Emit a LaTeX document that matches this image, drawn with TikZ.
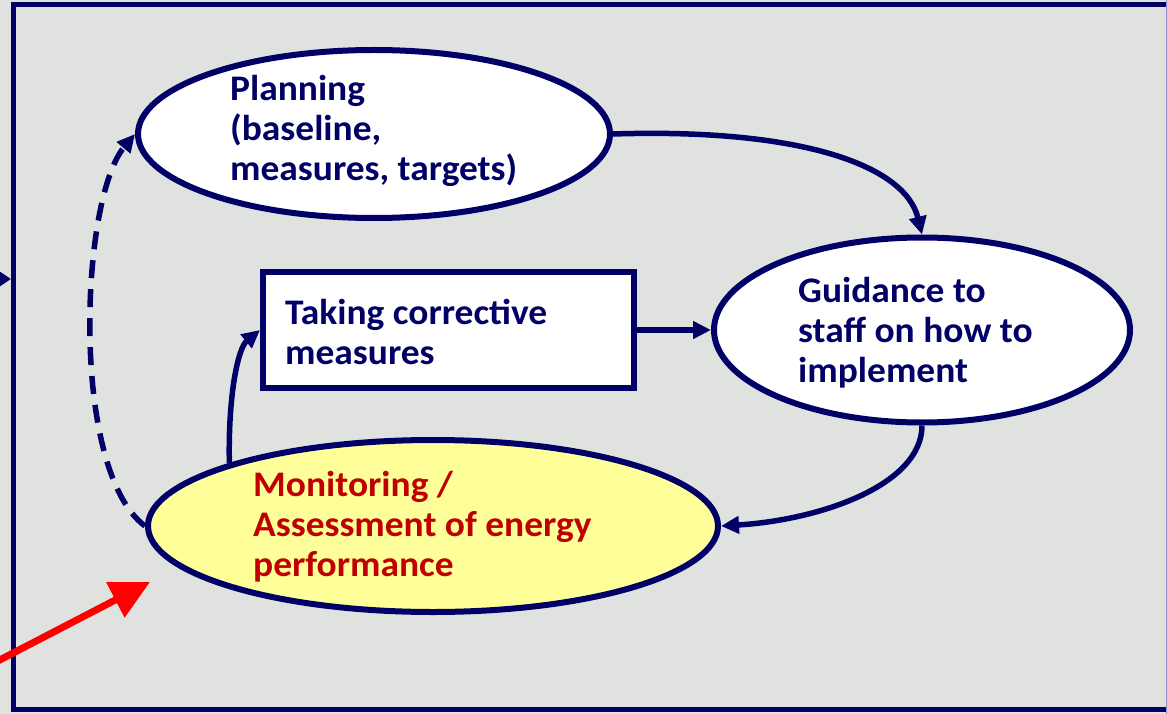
\documentclass[tikz,border=0pt]{standalone}
\usepackage{fontspec}
\setmainfont{Carlito}[FakeStretch=1.04]
\usetikzlibrary{arrows.meta,shapes.geometric}
\definecolor{navy}{RGB}{0,0,102}
\definecolor{bggray}{RGB}{224,226,224}
\definecolor{txtred}{RGB}{192,0,0}
\definecolor{paleyellow}{RGB}{255,255,153}
\definecolor{edgepurple}{RGB}{150,140,200}
\begin{document}
\begin{tikzpicture}[x=1pt,y=-1pt,
  ell/.style={ellipse, draw=navy, line width=6pt, fill=white, inner sep=0pt},
  rbox/.style={rectangle, draw=navy, line width=6pt, fill=white, inner sep=0pt},
  txt/.style={font=\bfseries\fontsize{36}{40}\selectfont, text=navy, align=left, inner sep=0pt},
  conn/.style={draw=navy, line width=5.5pt, -{Triangle[length=18pt,width=17pt]}},
  dconn/.style={conn, dash pattern=on 18pt off 11pt},
  redarrow/.style={draw=red, line width=7pt, -{Triangle[length=39pt,width=38pt]}}]
\useasboundingbox (0,0) rectangle (1167,714);
\clip (0,0) rectangle (1167,714);
\fill[bggray] (0,0) rectangle (1167,714);
\draw[navy, line width=5pt] (13,5) rectangle (1180,709);
\draw[edgepurple, line width=1.2pt] (1166.4,0) -- (1166.4,714);

% nodes
\node[ell, minimum width=472pt, minimum height=168pt] (plan) at (374,134) {};
\node[txt, anchor=west] (planT) at (230,130.5) {Planning\\(baseline,\\measures, targets)};

\node[ell, minimum width=416pt, minimum height=185pt] (guid) at (922,330) {};
\node[txt, anchor=west] (guidT) at (798,332.5) {Guidance to\\staff on how to\\implement};

\node[rbox, minimum width=371pt, minimum height=116pt] (box) at (448.5,330) {};
\node[txt, anchor=west] (boxT) at (285,331.5) {Taking corrective\\measures};

\node[ell, fill=paleyellow, minimum width=570pt, minimum height=172pt] (mon) at (433,526) {};
\node[txt, text=txtred, anchor=west] (monT) at (253,526.5) {Monitoring /\\Assessment of energy\\performance};

% connectors
\draw[conn] (plan.east) .. controls (800,128) and (905,165) .. (guid.north);
\draw[conn] (box.east) -- (guid.west);
\draw[conn] (guid.south) .. controls (922,485) and (820,520) .. (mon.east);
\draw[conn] (mon.north west) .. controls (228,395) and (238,348) .. (box.west);
\draw[dconn] (mon.west) .. controls (70,470) and (80,200) .. (plan.west);

% external arrows
\coordinate (ls) at (-30,279);
\coordinate (lt) at (11,279);
\draw[conn, -{Triangle[length=12pt,width=15pt]}] (ls) -- (lt);
\coordinate (rs) at (-10,665);
\coordinate (rt) at (150,582);
\draw[redarrow] (rs) -- (rt);
\end{tikzpicture}
\end{document}
